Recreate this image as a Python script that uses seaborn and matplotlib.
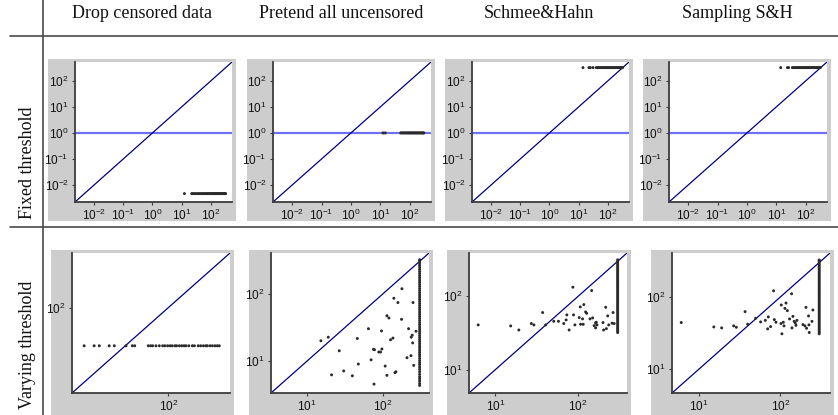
import matplotlib
matplotlib.use("Agg")
import matplotlib.pyplot as plt
import numpy as np
import pandas as pd
import seaborn as sns
from matplotlib.lines import Line2D
from matplotlib.patches import Rectangle
from matplotlib.ticker import FixedLocator, LogFormatterMathtext, NullLocator

# ---------------------------------------------------------------- data
methods = ["Drop censored data", "Pretend all uncensored", "Schmee&Hahn", "Sampling S&H"]
settings = ["Fixed threshold", "Varying threshold"]

# Fixed threshold: every censored observation collapses onto one estimate
fixed_x_drop = [12.4, 22, 24, 27, 30, 34, 38, 42, 47, 52, 57, 63, 69, 75, 82, 89, 96,
                104, 112, 120, 129, 139, 149, 160, 171, 183, 196, 210, 224, 240, 256,
                273, 290, 305, 318]
fixed_y_drop = 0.0047
fixed_x_pretend = [12.3, 14.6, 49, 53, 58, 63, 68, 74, 80, 86, 93, 100, 108, 116, 125,
                   134, 144, 155, 166, 178, 191, 205, 220, 236, 252, 270, 288, 300]
fixed_y_pretend = 1.0
fixed_x_sh = [14, 22.4, 25, 31, 40, 44, 48, 53, 58, 64, 70, 76, 83, 90, 98, 106, 115,
              124, 134, 145, 156, 168, 181, 195, 210, 226, 243, 261, 280, 300, 318]
fixed_y_sh = 320
fixed_x_sampling = [14, 23.7, 26, 35, 39, 43, 48, 53, 58, 64, 70, 77, 84, 91, 99, 108,
                    117, 127, 138, 149, 161, 174, 188, 203, 219, 236, 254, 273, 293, 312]
fixed_y_sampling = 320

# Varying threshold
vary_x_drop = [15.1, 18.9, 21.2, 26.5, 29.7, 38.6, 44.5, 46.9, 63.7, 67.1, 70.2, 75.6,
               81.5, 87.9, 92.5, 98.3, 104, 109, 116, 120, 128, 135, 142, 148, 158, 171,
               179, 195, 206, 219, 231, 239, 254, 268, 284, 299, 313]
vary_y_drop = 38

vary_x_pretend = [15.3, 19.1, 26.6, 21.1, 30.4, 39.5, 45.9, 47.3, 64.1, 69.5, 74.6, 76.9,
                  75.9, 87.7, 92.3, 96.2, 95.0, 106.2, 111.9, 118.9, 111.9, 124.8, 134.1,
                  138, 142.5, 146.8, 156, 176, 174, 215, 205, 231, 233, 240, 243, 246,
                  251, 269]
vary_y_pretend = [20.1, 22.7, 14.3, 6.3, 7.2, 6.1, 21.7, 9.1, 30.3, 10.5, 15.0, 14.8,
                  4.6, 13.7, 13.7, 15.2, 28.1, 8.5, 47.1, 43.6, 6.2, 20.8, 22.0, 85.3,
                  6.8, 7.0, 73.8, 118, 41.7, 30.3, 11.3, 12.1, 22.7, 24.3, 18.7, 73.8,
                  8.7, 27.8]
bar_y_pretend = [4.4, 4.7, 5.1, 5.5, 5.9, 6.4, 7.0, 7.6, 8.2, 8.9, 9.5, 10.2, 11.0, 11.9,
                 12.7, 13.6, 14.6, 15.7, 16.8, 18.1, 19.5, 20.9, 22.5, 24.1, 26.0, 27.9,
                 30.0, 32.1, 34.6, 37.1, 40.0, 43.0, 46.2, 49.7, 53.4, 57.6, 61.8, 66.6,
                 71.4, 76.9, 82.6, 88.9, 95.5, 102.7, 110.6, 118.7, 127.8, 137.2, 147.7,
                 158.6, 170.7, 183.3, 197.3, 212.0, 228.0, 244.9, 263.5, 283.1, 304.0, 316]

vary_x_sh = [6.2, 15.3, 19.2, 27.2, 29.2, 37.2, 40.5, 50.7, 57.8, 67, 71.6, 73, 77.8,
             86.3, 87.9, 91.2, 103, 106, 107, 113, 115, 117, 123, 126.5, 139, 145.5,
             149.6, 156, 162.5, 162.5, 165.5, 168.7, 199.5, 203, 215, 219, 227.5, 234,
             257, 264, 272]
vary_y_sh = [40.7, 39.4, 34.7, 42.5, 40.7, 60, 40.7, 45.6, 45.6, 42.5, 47.6, 55.7, 34.7,
             133, 55.7, 40.7, 51.2, 71.6, 41.5, 49.2, 41.5, 77, 61.2, 58.6, 49.2, 119.7,
             50.7, 39.8, 43.4, 37.1, 44.2, 40.7, 43.8, 34.7, 70.8, 36.2, 54, 40.7, 42.9,
             60, 42.5]
bar_y_sh = [32, 33.5, 35, 36.6, 38.3, 40.1, 42, 44, 46.1, 48.2, 50.5, 52.8, 55.3, 57.9,
            60.6, 63.4, 66.4, 69.5, 72.7, 76.1, 79.7, 83.4, 87.3, 91.4, 95.6, 100.1,
            104.8, 109.7, 114.8, 120.2, 125.8, 131.7, 137.8, 144.3, 151, 158.1, 165.5,
            173.2, 181.3, 189.8, 198.6, 207.9, 217.6, 227.8, 238.5, 249.6, 261.3, 273.5,
            286.3, 299.7, 314]

vary_x_sampling = [6.1, 15.3, 19.1, 26.8, 28.9, 37, 39.8, 49.9, 57.4, 65.5, 70, 71.3, 76,
                   82.8, 84.5, 88.5, 102, 102.8, 104.7, 108.8, 111, 114, 117.5, 122, 130,
                   137.5, 139, 143, 148, 152.6, 155.6, 160, 189.5, 200.5, 206.5, 210, 222,
                   224.5, 226.5, 244.5, 251]
vary_y_sampling = [44.4, 38.6, 37.4, 39.9, 38.2, 62.8, 42, 50.8, 45.3, 47.6, 36.3, 53.1,
                   39, 122, 48.7, 44.8, 43, 77.6, 31, 44.8, 39.9, 69.7, 82.6, 64.9, 49.8,
                   111, 37.4, 54, 46.1, 43.9, 40.6, 47.6, 41.6, 39.9, 72, 37, 54.8, 41.2,
                   32.3, 46.1, 66.2]
bar_y_sampling = [31, 32.5, 34, 35.6, 37.3, 39.1, 41, 42.9, 45, 47.1, 49.4, 51.7, 54.2,
                  56.8, 59.5, 62.3, 65.3, 68.4, 71.7, 75.1, 78.7, 82.5, 86.4, 90.5, 94.9,
                  99.4, 104.2, 109.2, 114.4, 119.8, 125.6, 131.6, 137.9, 144.5, 151.4,
                  158.6, 166.2, 174.1, 182.5, 191.2, 200.3, 209.9, 219.9, 230.5, 241.5,
                  253, 265.1, 277.8, 291.1, 305, 319, 326]
bar_x = 300

# axis limits (identical on x and y) and decade ticks per panel
fixed_lims = (0.00224, 525)
vary_lims = [(11.5, 398), (3.4, 398), (4.8, 389), (4.7, 407)]
fixed_ticks = [0.01, 0.1, 1, 10, 100]
vary_ticks = [[100], [10, 100], [10, 100], [10, 100]]

# ---------------------------------------------------------------- style
sns.set_style("white")
plt.rcParams["font.family"] = ["Liberation Sans", "DejaVu Sans"]
plt.rcParams["mathtext.fontset"] = "custom"
plt.rcParams["mathtext.rm"] = "Liberation Sans"
plt.rcParams["mathtext.it"] = "Liberation Sans:italic"
plt.rcParams["mathtext.bf"] = "Liberation Sans:bold"

W, H = 838, 415
PANEL_GRAY = "#cdcdcd"
RULE = "#4a4a4a"
AXIS = "#3c3c3c"
DOT = "#2a2a2a"
DIAG = "#000080"
LEVEL = "#6f6ff7"

fig = plt.figure(figsize=(W / 100, H / 100), dpi=100)
fig.patch.set_facecolor("white")


def frac_rect(l, t, r, b):
    return [l / W, 1 - b / H, (r - l) / W, (b - t) / H]


def gray_box(l, t, r, b):
    x0, y0, w, h = frac_rect(l, t, r, b)
    fig.add_artist(Rectangle((x0, y0), w, h, transform=fig.transFigure,
                             facecolor=PANEL_GRAY, edgecolor="none", zorder=0))


def style_axes(ax, lims, ticks):
    ax.set_xscale("log")
    ax.set_yscale("log")
    ax.set_xlim(lims)
    ax.set_ylim(lims)
    for axis in (ax.xaxis, ax.yaxis):
        axis.set_major_locator(FixedLocator(ticks))
        axis.set_major_formatter(LogFormatterMathtext())
        axis.set_minor_locator(NullLocator())
    ax.tick_params(axis="both", which="major", direction="out", length=2.5, width=0.8,
                   color=AXIS, labelsize=8.5, labelcolor="#111111", pad=2,
                   bottom=True, left=True)
    for side in ("top", "right"):
        ax.spines[side].set_visible(False)
    for side in ("left", "bottom"):
        ax.spines[side].set_color(AXIS)
        ax.spines[side].set_linewidth(1.3)
    ax.set_xlabel("")
    ax.set_ylabel("")
    ax.set_facecolor("white")


def draw_points(ax, xs, ys):
    df = pd.DataFrame({"x": xs, "y": ys})
    sns.scatterplot(data=df, x="x", y="y", ax=ax, s=4.5, color=DOT, edgecolor="none",
                    linewidth=0, legend=False, zorder=3, clip_on=False)


# panel frames in pixels: gray backing box and white plotting area
top_boxes = [(48, 59, 236, 221), (247, 59, 435, 221), (445, 59, 633, 221), (643, 59, 831, 221)]
top_axes = [(75, 62, 232, 202), (273, 62, 431, 202), (472, 62, 629, 202), (669, 62, 827, 202)]
bot_boxes = [(51, 250, 234, 420), (249, 250, 433, 420), (447, 250, 631, 420), (651, 250, 834, 420)]
bot_axes = [(72, 253, 230, 393), (271, 253, 429, 393), (469, 253, 627, 393), (672, 253, 830, 393)]

fixed_sets = [(fixed_x_drop, fixed_y_drop), (fixed_x_pretend, fixed_y_pretend),
              (fixed_x_sh, fixed_y_sh), (fixed_x_sampling, fixed_y_sampling)]

for i, (xs, yv) in enumerate(fixed_sets):
    gray_box(*top_boxes[i])
    ax = fig.add_axes(frac_rect(*top_axes[i]))
    style_axes(ax, fixed_lims, fixed_ticks)
    ax.axhline(1, color=LEVEL, lw=1.6, zorder=1)
    ax.plot(fixed_lims, fixed_lims, color=DIAG, lw=0.9, zorder=2)
    draw_points(ax, xs, [yv] * len(xs))
    style_axes(ax, fixed_lims, fixed_ticks)

vary_sets = [
    (vary_x_drop, [vary_y_drop] * len(vary_x_drop)),
    (vary_x_pretend + [bar_x] * len(bar_y_pretend), vary_y_pretend + bar_y_pretend),
    (vary_x_sh + [bar_x] * len(bar_y_sh), vary_y_sh + bar_y_sh),
    (vary_x_sampling + [bar_x] * len(bar_y_sampling), vary_y_sampling + bar_y_sampling),
]

for i, (xs, ys) in enumerate(vary_sets):
    gray_box(*bot_boxes[i])
    ax = fig.add_axes(frac_rect(*bot_axes[i]))
    lims = vary_lims[i]
    style_axes(ax, lims, vary_ticks[i])
    ax.plot(lims, lims, color=DIAG, lw=0.9, zorder=2)
    draw_points(ax, xs, ys)
    style_axes(ax, lims, vary_ticks[i])

# table rules separating headers and rows
fig.add_artist(Line2D([43 / W, 43 / W], [0, 1], transform=fig.transFigure,
                      color=RULE, lw=1.2, zorder=5))
for y in (36, 227):
    fig.add_artist(Line2D([10 / W, 1], [1 - y / H, 1 - y / H], transform=fig.transFigure,
                          color=RULE, lw=1.2, zorder=5))

serif = ["Liberation Serif", "DejaVu Serif"]
for i, name in enumerate(methods):
    l, _, r, _ = top_boxes[i]
    fig.text((l + r) / 2 / W, 1 - 14 / H, name, ha="center", va="center",
             family=serif, fontsize=13, color="#111111")

fig.text(28 / W, 1 - 163 / H, settings[0], rotation=90, ha="center", va="center",
         family=serif, fontsize=13, color="#111111")
fig.text(27 / W, 1 - 345 / H, settings[1], rotation=90, ha="center", va="center",
         family=serif, fontsize=13, color="#111111")

fig.savefig("out.png", dpi=100, facecolor="white")
